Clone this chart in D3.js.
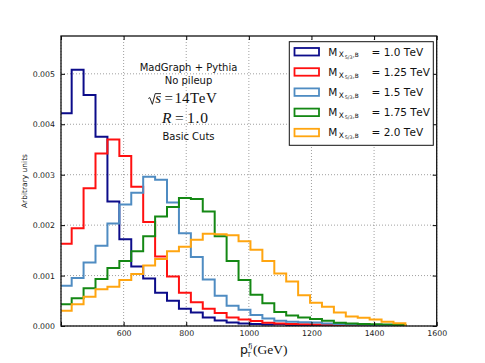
<!DOCTYPE html>
<html>
<head>
<meta charset="utf-8">
<script src="https://cdn.jsdelivr.net/npm/d3@7"></script>
<style>
  body { margin: 0; background: #fff; }
</style>
</head>
<body>
<div id="chart"></div>
<script>
// Histogram bin edges (GeV) and normalised contents, one array per mass point
const binEdges = [396, 434.1, 472.1, 510.2, 548.3, 586.4, 624.4, 662.5, 700.6, 738.6, 776.7,
  814.8, 852.8, 890.9, 929.0, 967.1, 1005.1, 1043.2, 1081.3, 1119.3, 1157.4, 1195.5,
  1233.5, 1271.6, 1309.7, 1347.8, 1385.8, 1423.9, 1462.0, 1500];

const m1000 = [0.00422, 0.00508, 0.00458, 0.00375, 0.00247, 0.00172, 0.00118, 0.00094, 0.00066, 0.00050,
  0.00034, 0.00027, 0.00017, 0.00011, 0.00007, 0.00005, 0.00004, 0.00003, 0.000034, 0.00002,
  0.00002, 0.000015, 0.00001, 0.00001, 0.00001, 0.000005, 0.000005, 0.000005, 0.000003];
const m1250 = [0.00163, 0.00194, 0.00273, 0.00342, 0.00370, 0.00337, 0.00276, 0.00206, 0.00138, 0.00098,
  0.00066, 0.00047, 0.00034, 0.00026, 0.00017, 0.00013, 0.00010, 0.000066, 0.00005, 0.00004,
  0.000035, 0.00003, 0.000025, 0.00002, 0.000015, 0.00001, 0.00001, 0.000008, 0.000005];
const m1500 = [0.00080, 0.00095, 0.00126, 0.00159, 0.00203, 0.00241, 0.00264, 0.00296, 0.00290, 0.00245,
  0.00184, 0.00137, 0.00092, 0.00060, 0.00040, 0.00032, 0.00022, 0.00015, 0.000105, 0.000085,
  0.000075, 0.00007, 0.00005, 0.00004, 0.00003, 0.000025, 0.00002, 0.000015, 0.00001];
const m1750 = [0.00043, 0.00055, 0.00075, 0.00093, 0.00115, 0.00129, 0.00148, 0.00178, 0.00217, 0.00236,
  0.00254, 0.00252, 0.00227, 0.00178, 0.00129, 0.00091, 0.00062, 0.00045, 0.00028, 0.00021,
  0.00017, 0.00014, 0.000105, 0.000066, 0.00005, 0.00004, 0.000035, 0.00003, 0.00002];
const m2000 = [0.00030, 0.00043, 0.00058, 0.00073, 0.00078, 0.00091, 0.00103, 0.00120, 0.00133, 0.00148,
  0.00157, 0.00171, 0.00183, 0.00182, 0.00180, 0.00168, 0.00151, 0.00129, 0.00104, 0.00088,
  0.00061, 0.00046, 0.00038, 0.00027, 0.00019, 0.000165, 0.00013, 0.000085, 0.000053];

const massLabels = ["1.0", "1.25", "1.5", "1.75", "2.0"];
const seriesList = [m1000, m1250, m1500, m1750, m2000];
const colors = ["#0c0c8a", "#ff1010", "#4f8cc2", "#148814", "#ffa510"];

const xTicks = [400, 600, 800, 1000, 1200, 1400, 1600];
const yTicks = [0, 0.001, 0.002, 0.003, 0.004, 0.005];
const infoLines = ["MadGraph + Pythia", "No pileup", "Basic Cuts"];

// Canvas
const width = 485, height = 363;
const margin = { top: 36, right: 48.3, bottom: 37, left: 61 };
const innerW = width - margin.left - margin.right;
const innerH = height - margin.top - margin.bottom;
const sans = "DejaVu Sans, sans-serif";
const serif = "Liberation Serif, serif";

const svg = d3.select("#chart").append("svg")
  .attr("width", width).attr("height", height)
  .attr("font-family", sans);

const x = d3.scaleLinear().domain([400, 1600]).range([margin.left, margin.left + innerW]);
const y = d3.scaleLinear().domain([0, 0.00575]).range([margin.top + innerH, margin.top]);

svg.append("clipPath").attr("id", "plot-clip")
  .append("rect")
  .attr("x", margin.left).attr("y", margin.top)
  .attr("width", innerW).attr("height", innerH);

// Dotted grid
const grid = svg.append("g").attr("stroke", "#777").attr("stroke-width", 0.7)
  .attr("stroke-dasharray", "1,2");
grid.selectAll(".gx").data(xTicks).join("line")
  .attr("x1", d => x(d)).attr("x2", d => x(d))
  .attr("y1", margin.top).attr("y2", margin.top + innerH);
grid.selectAll(".gy").data(yTicks).join("line")
  .attr("x1", margin.left).attr("x2", margin.left + innerW)
  .attr("y1", d => y(d)).attr("y2", d => y(d));

// Step outlines (histtype='step')
function stepPoints(values) {
  const pts = [[binEdges[0], 0]];
  values.forEach((v, i) => {
    pts.push([binEdges[i], v]);
    pts.push([binEdges[i + 1], v]);
  });
  pts.push([binEdges[binEdges.length - 1], 0]);
  return pts;
}

const line = d3.line().x(d => x(d[0])).y(d => y(d[1]));

svg.append("g").attr("clip-path", "url(#plot-clip)")
  .selectAll("path").data(seriesList).join("path")
  .attr("d", d => line(stepPoints(d)))
  .attr("fill", "none")
  .attr("stroke", (d, i) => colors[i])
  .attr("stroke-width", 2)
  .attr("stroke-linejoin", "miter");

// Axes with inward ticks on all four sides
const tickFont = 7.8;
const fmtY = d3.format(".3f");

svg.append("g").attr("transform", `translate(0,${margin.top + innerH})`)
  .call(d3.axisBottom(x).tickValues(xTicks).tickSizeInner(-4).tickSizeOuter(0).tickPadding(4.5)
    .tickFormat(d => d === 400 ? "" : d));
svg.append("g").attr("transform", `translate(0,${margin.top})`)
  .call(d3.axisTop(x).tickValues(xTicks).tickSizeInner(-4).tickSizeOuter(0).tickFormat(""));
svg.append("g").attr("transform", `translate(${margin.left},0)`)
  .call(d3.axisLeft(y).tickValues(yTicks).tickSizeInner(-4).tickSizeOuter(0).tickPadding(6)
    .tickFormat(fmtY));
svg.append("g").attr("transform", `translate(${margin.left + innerW},0)`)
  .call(d3.axisRight(y).tickValues(yTicks).tickSizeInner(-4).tickSizeOuter(0).tickFormat(""));

svg.selectAll(".domain").remove();
svg.selectAll(".tick line").attr("stroke", "#000").attr("stroke-width", 1);
svg.selectAll(".tick text").attr("font-size", tickFont)
  .attr("font-family", sans).attr("fill", "#222");

// Frame
svg.append("rect")
  .attr("x", margin.left).attr("y", margin.top)
  .attr("width", innerW).attr("height", innerH)
  .attr("fill", "none").attr("stroke", "#111").attr("stroke-width", 1.3);

// Axis titles
svg.append("text")
  .attr("transform", `translate(27,${margin.top + innerH / 2}) rotate(-90)`)
  .attr("text-anchor", "middle").attr("font-size", 7.5).attr("fill", "#222")
  .text("Arbitrary units");

const xl = svg.append("text").attr("x", 240).attr("y", 353.5).attr("fill", "#111");
xl.append("tspan").attr("font-size", 12.5).text("p");
xl.append("tspan").attr("font-size", 6.5).attr("dx", 0.3).attr("dy", -5.5).text("fj");
xl.append("tspan").attr("font-size", 6.5).attr("x", 247).attr("dy", 8.5).text("T");
xl.append("tspan").attr("font-family", serif).attr("font-size", 13.5)
  .attr("x", 253).attr("y", 353.5).text("(GeV)");

// Info block
const infoX = 188.5;
svg.append("text").attr("x", infoX).attr("y", 70.6).attr("text-anchor", "middle")
  .attr("font-size", 10).attr("fill", "#111").text(infoLines[0]);
svg.append("text").attr("x", infoX).attr("y", 84.2).attr("text-anchor", "middle")
  .attr("font-size", 10).attr("fill", "#111").text(infoLines[1]);
svg.append("text").attr("x", infoX).attr("y", 140).attr("text-anchor", "middle")
  .attr("font-size", 10).attr("fill", "#111").text(infoLines[2]);

// sqrt(s) = 14 TeV
svg.append("path")
  .attr("d", "M148.3,98.5 L149.8,97.6 L152.4,104.3 L155.2,93.6 L161,93.6")
  .attr("fill", "none").attr("stroke", "#111").attr("stroke-width", 0.9);
const sq = svg.append("text").attr("y", 103.4).attr("font-family", serif)
  .attr("font-size", 15).attr("fill", "#111");
sq.append("tspan").attr("x", 155.3).attr("font-style", "italic").text("s");
sq.append("tspan").attr("x", 164.5).text("=");
sq.append("tspan").attr("x", 174.5).text("14");
sq.append("tspan").attr("x", 190).attr("letter-spacing", 0.6).text("TeV");

const rr = svg.append("text").attr("y", 123).attr("font-family", serif)
  .attr("font-size", 15.5).attr("fill", "#111");
rr.append("tspan").attr("x", 162).attr("font-style", "italic").text("R");
rr.append("tspan").attr("x", 175).text("=");
rr.append("tspan").attr("x", 187).attr("letter-spacing", 0.8).text("1.0");

// Legend
const legend = svg.append("g");
legend.append("rect")
  .attr("x", 289.3).attr("y", 41.7).attr("width", 144).attr("height", 103.6)
  .attr("fill", "#fff").attr("stroke", "#111").attr("stroke-width", 1);

const rows = legend.selectAll(".row").data(massLabels).join("g")
  .attr("transform", (d, i) => `translate(0,${55.5 + i * 20.2})`);
rows.append("rect")
  .attr("x", 294.5).attr("y", -7.5).attr("width", 24.5).attr("height", 7.5)
  .attr("fill", "#fff").attr("stroke", (d, i) => colors[i]).attr("stroke-width", 1.8);
const lt = rows.append("text").attr("x", 328.3).attr("y", 0).attr("fill", "#111");
lt.append("tspan").attr("font-size", 10.5).text("M");
lt.append("tspan").attr("font-size", 7.5).attr("dx", 1.5).attr("dy", 1.8).text("X");
lt.append("tspan").attr("font-size", 4.8).attr("dx", 0.8).attr("dy", 1.2).text("5/3");
lt.append("tspan").attr("font-size", 5.8).attr("dx", 0.3).attr("dy", -1.2).text(",B");
lt.append("tspan").attr("font-size", 10.5).attr("x", 371.5).attr("y", 0)
  .text(d => `= ${d} T`);
lt.append("tspan").attr("font-size", 10.5).attr("dx", 1.2).text("eV");
</script>
</body>
</html>
